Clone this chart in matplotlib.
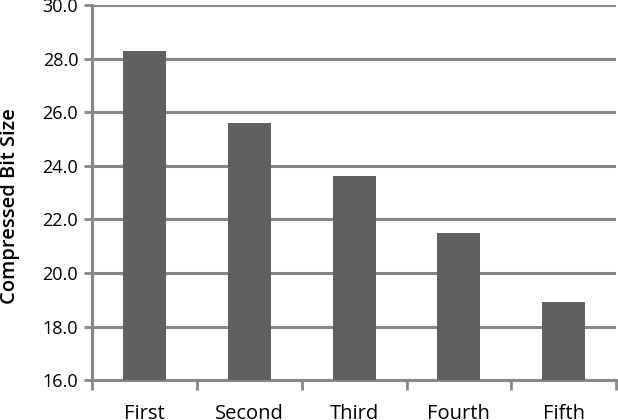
import numpy as np
import matplotlib
matplotlib.use("Agg")
import matplotlib.pyplot as plt

categories = ["First", "Second", "Third", "Fourth", "Fifth"]
bit_size = [28.3, 25.6, 23.63, 21.5, 18.93]
y_ticks = [16.0, 18.0, 20.0, 22.0, 24.0, 26.0, 28.0, 30.0]

plt.rcParams["font.family"] = ["Open Sans", "DejaVu Sans"]
grid_col = "#878787"

fig = plt.figure(figsize=(6.18, 4.2), dpi=100)
ax = fig.add_axes([0.149, 0.095, 0.848, 0.893])

x = np.arange(len(categories))
ax.bar(x, bit_size, width=0.41, color="#606060", zorder=3)

ax.set_ylim(16, 30)
ax.set_xlim(-0.5, len(categories) - 0.5)
ax.set_yticks(y_ticks)
ax.set_yticklabels([f"{v:.1f}" for v in y_ticks], fontsize=13)
ax.yaxis.grid(True, color=grid_col, linewidth=2.2, zorder=0)
ax.set_axisbelow(True)

ax.set_xticks(x)
ax.set_xticklabels(categories, fontsize=14.5)
ax.tick_params(axis="x", which="major", length=0, pad=17)
ax.set_xticks(np.arange(-0.5, len(categories)), minor=True)
ax.tick_params(axis="x", which="minor", length=7, width=2, color=grid_col)
ax.tick_params(axis="y", length=6, width=2, color=grid_col, pad=4)

for s in ["top", "right"]:
    ax.spines[s].set_visible(False)
for s in ["left", "bottom"]:
    ax.spines[s].set_color(grid_col)
    ax.spines[s].set_linewidth(2.2)

fig.text(10 / 618, 1 - 206 / 420, "Compressed Bit Size", rotation=90,
         ha="center", va="center", fontsize=14.5, fontweight="semibold")

fig.savefig("out.png", dpi=100)
